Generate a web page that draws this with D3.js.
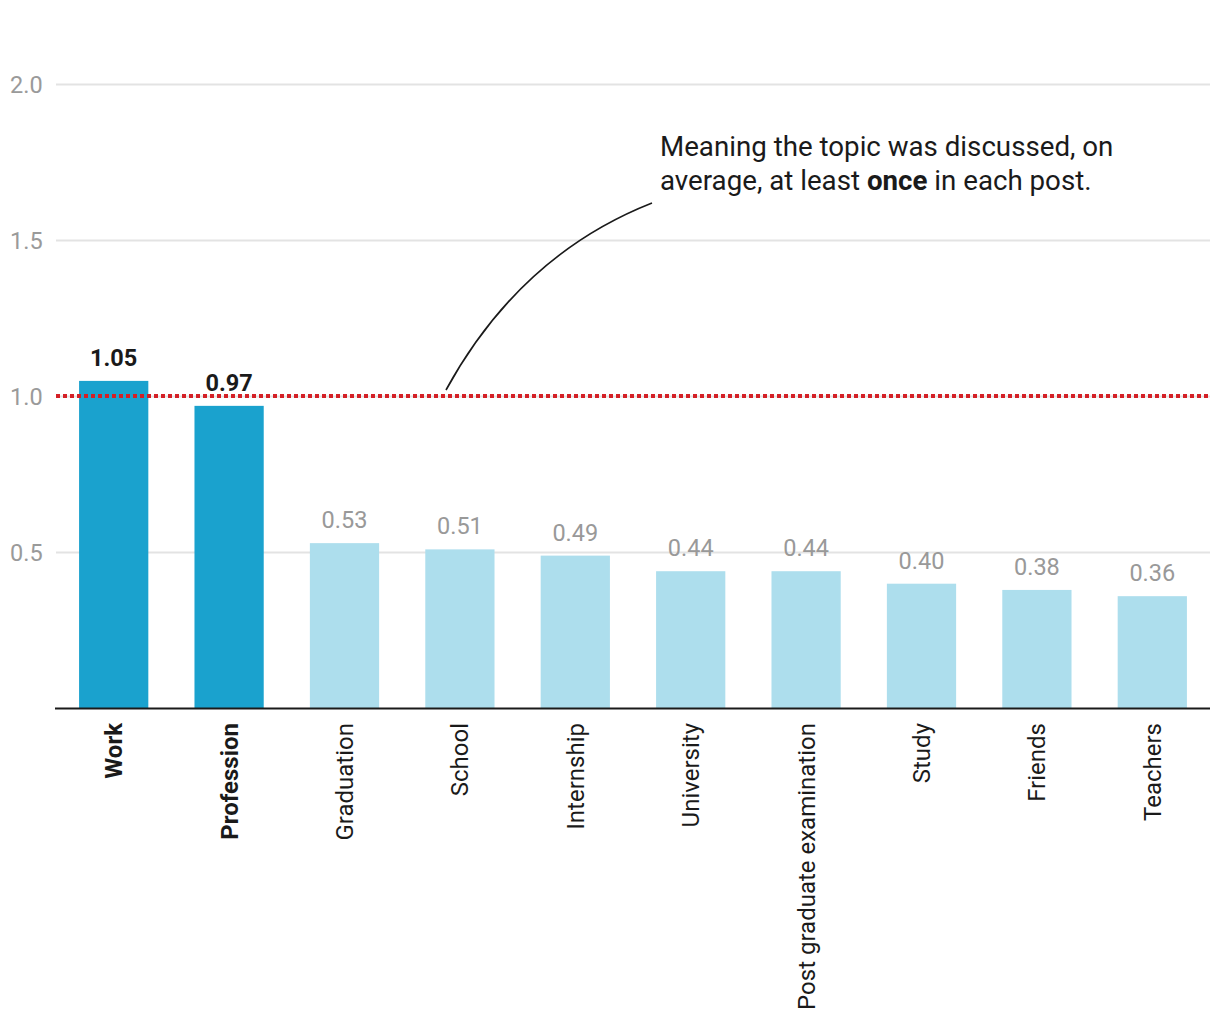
<!DOCTYPE html>
<html><head><meta charset="utf-8">
<script src="https://cdn.jsdelivr.net/npm/d3@7"></script>
<style>body{margin:0;background:#fff;font-family:Roboto,"Noto Sans",sans-serif;}</style>
</head><body>
<svg id="chart" width="1220" height="1020"></svg>
<script>
const categories = ["Work","Profession","Graduation","School","Internship","University","Post graduate examination","Study","Friends","Teachers"];
const values = [1.05,0.97,0.53,0.51,0.49,0.44,0.44,0.40,0.38,0.36];
const highlighted = ["Work","Profession"];
const yTicks = [0.5,1.0,1.5,2.0];
const threshold = 1.0;

const svg = d3.select("#chart");
const x = d3.scaleBand().domain(categories).range([56,1210]).paddingInner(0.4).paddingOuter(0.2);
const y = d3.scaleLinear().domain([0,2]).range([708.5,84.5]);

// gridlines
svg.append("g").selectAll("line").data(yTicks).join("line")
  .attr("x1",56).attr("x2",1210).attr("y1",d=>y(d)).attr("y2",d=>y(d))
  .attr("stroke","#e3e3e3").attr("stroke-width",2);
svg.append("g").selectAll("text").data(yTicks).join("text")
  .attr("x",10).attr("y",d=>y(d)).attr("dy","0.35em")
  .attr("font-size",23.5).attr("fill","#9a9a9a").text(d=>d3.format(".1f")(d));

// bars
svg.append("g").selectAll("rect").data(categories).join("rect")
  .attr("x",d=>x(d)).attr("width",x.bandwidth())
  .attr("y",(d,i)=>y(values[i])).attr("height",(d,i)=>y(0)-y(values[i]))
  .attr("fill",d=>highlighted.includes(d)?"#1aa2ce":"#addeed");

// value labels
svg.append("g").selectAll("text").data(categories).join("text")
  .attr("x",d=>x(d)+x.bandwidth()/2).attr("y",(d,i)=>y(values[i])-15)
  .attr("text-anchor","middle").attr("font-size",23.5)
  .attr("font-weight",d=>highlighted.includes(d)?"bold":"normal")
  .attr("fill",d=>highlighted.includes(d)?"#1a1a1a":"#999")
  .text((d,i)=>d3.format(".2f")(values[i]));

// baseline
svg.append("line").attr("x1",55).attr("x2",1210).attr("y1",y(0)).attr("y2",y(0))
  .attr("stroke","#1a1a1a").attr("stroke-width",2);

// category labels
svg.append("g").selectAll("text").data(categories).join("text")
  .attr("transform",d=>`translate(${x(d)+x.bandwidth()/2},723) rotate(-90)`)
  .attr("text-anchor","end").attr("dy","0.35em").attr("font-size",24)
  .attr("font-weight",d=>highlighted.includes(d)?"bold":"normal")
  .attr("fill","#1a1a1a").text(d=>d);

// threshold line
svg.append("line").attr("x1",56).attr("x2",1210).attr("y1",y(threshold)-0.5).attr("y2",y(threshold)-0.5)
  .attr("stroke","#d42026").attr("stroke-width",4).attr("stroke-dasharray","4,3");

// annotation
const p = d3.path();
p.moveTo(446,390);
p.quadraticCurveTo(520,255,652,203);
svg.append("path").attr("d",p.toString()).attr("fill","none").attr("stroke","#1a1a1a").attr("stroke-width",1.6);

const ann = svg.append("text").attr("x",660).attr("y",156).attr("font-size",27.7).attr("fill","#1a1a1a");
ann.append("tspan").attr("x",660).text("Meaning the topic was discussed, on");
const l2 = ann.append("tspan").attr("x",660).attr("dy",34);
l2.text("average, at least ");
ann.append("tspan").attr("font-weight","bold").text("once");
ann.append("tspan").text(" in each post.");
</script>
</body></html>
